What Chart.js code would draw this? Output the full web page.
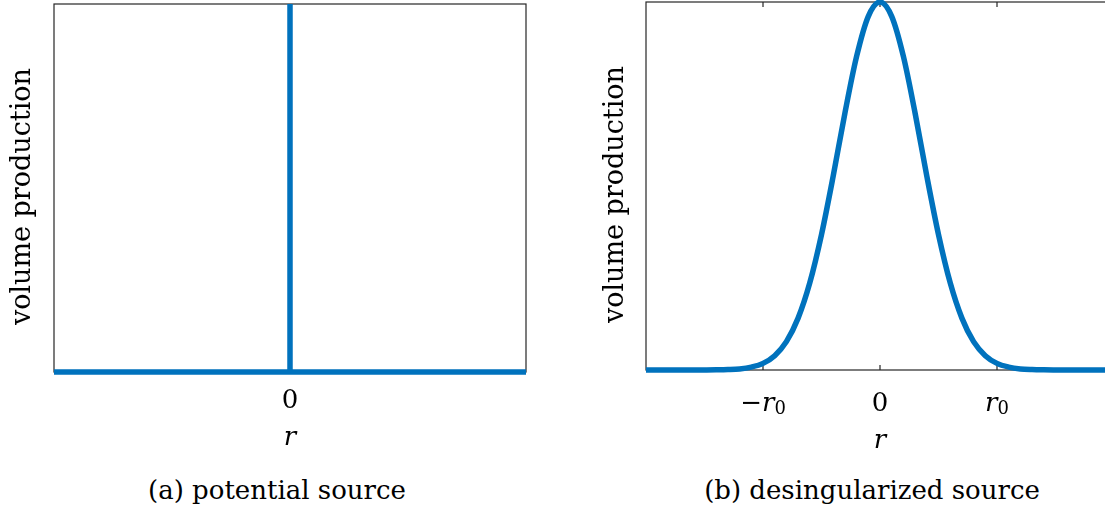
<!DOCTYPE html>
<html>
<head>
<meta charset="utf-8">
<script src="https://cdn.jsdelivr.net/npm/chart.js@4.4.0/dist/chart.umd.min.js"></script>
<style>
  html, body { margin: 0; padding: 0; background: #fff; overflow: hidden; width: 1105px; height: 514px; }
  .box { position: absolute; top: 0; height: 460px; }
  .cap { position: absolute; top: 475px; font: 26px "DejaVu Serif"; line-height: 30px; white-space: nowrap; transform: translateX(-50%); color: #000; }
</style>
</head>
<body>
<div class="box" style="left:0;width:560px"><canvas id="left"></canvas></div>
<div class="box" style="left:580px;width:545px"><canvas id="right"></canvas></div>
<div class="cap" style="left:277px">(a) potential source</div>
<div class="cap" style="left:872px">(b) desingularized source</div>
<script>
// (a) point source: baseline plus a spike at r = 0
const leftR = [-1, 0, 0, 0, 1];
const leftV = [0, 0, 1, 0, 0];
const leftTicks = [0];
const leftTickLabels = ['0'];

// (b) smoothed source, r in units of r0
const rightR = [-2.0, -1.9, -1.8, -1.7, -1.6, -1.5, -1.4, -1.3, -1.2, -1.1, -1.0,
  -0.9, -0.8, -0.7, -0.6, -0.5, -0.4, -0.3, -0.2, -0.1, 0.0,
  0.1, 0.2, 0.3, 0.4, 0.5, 0.6, 0.7, 0.8, 0.9, 1.0,
  1.1, 1.2, 1.3, 1.4, 1.5, 1.6, 1.7, 1.8, 1.9, 2.0];
const rightV = [0, 0, 0, 0, 0, 0, 0.0004, 0.0012, 0.003, 0.008, 0.018,
  0.039, 0.077, 0.141, 0.237, 0.368, 0.527, 0.698, 0.852, 0.961, 1.0,
  0.961, 0.852, 0.698, 0.527, 0.368, 0.237, 0.141, 0.077, 0.039, 0.018,
  0.008, 0.003, 0.0012, 0.0004, 0, 0, 0, 0, 0, 0];
const rightTicks = [-1, 0, 1];
const rightTickLabels = ['-r0', '0', 'r0'];

const BLUE = '#0072BD';
const AXIS = '#262626';
const FAM = '"DejaVu Serif"';

Chart.defaults.color = '#000';

// frame and inward tick marks, like matlab
const boxPlugin = {
  id: 'box',
  beforeDatasetsDraw(chart) {
    const { ctx, chartArea: a, scales: { x } } = chart;
    ctx.save();
    ctx.strokeStyle = AXIS;
    ctx.lineWidth = 1.2;
    ctx.strokeRect(a.left, a.top, a.right - a.left, a.bottom - a.top);
    ctx.beginPath();
    x.ticks.forEach(t => {
      const px = x.getPixelForValue(t.value);
      ctx.moveTo(px, a.bottom); ctx.lineTo(px, a.bottom - 5);
      ctx.moveTo(px, a.top); ctx.lineTo(px, a.top + 5);
    });
    ctx.stroke();
    ctx.restore();
  }
};

// tick labels with italic r and subscript 0
const subLabels = {
  id: 'subLabels',
  afterDraw(chart, args, opts) {
    if (!opts.labels) return;
    const { ctx, chartArea: a, scales: { x } } = chart;
    const base = a.bottom + 41;
    ctx.save();
    ctx.fillStyle = '#000';
    ctx.textBaseline = 'alphabetic';
    ctx.textAlign = 'left';
    x.ticks.forEach((t, i) => {
      const lab = opts.labels[i];
      const parts = [];
      for (let k = 0; k < lab.length; k++) {
        const c = lab[k];
        if (c === '-') parts.push({ s: '\u2212', f: '26px ' + FAM, dy: 0 });
        else if (/[a-z]/.test(c)) parts.push({ s: c, f: 'italic 26px ' + FAM, dy: 0 });
        else if (k > 0 && /[a-z]/.test(lab[k - 1])) parts.push({ s: c, f: '18px ' + FAM, dy: 3 });
        else parts.push({ s: c, f: '26px ' + FAM, dy: 0 });
      }
      let w = 0;
      parts.forEach(p => { ctx.font = p.f; p.w = ctx.measureText(p.s).width; w += p.w; });
      let cx = x.getPixelForValue(t.value) - w / 2;
      parts.forEach(p => { ctx.font = p.f; ctx.fillText(p.s, cx, base + p.dy); cx += p.w; });
    });
    ctx.restore();
  }
};

function makeChart(id, xs, ys, cfg) {
  const pts = xs.map((v, i) => ({ x: v, y: ys[i] }));
  return new Chart(document.getElementById(id), {
    type: 'line',
    data: {
      datasets: [{
        data: pts,
        borderColor: BLUE,
        borderWidth: 5.5,
        pointRadius: 0,
        fill: false,
        clip: false,
        cubicInterpolationMode: cfg.smooth ? 'monotone' : 'default',
        tension: 0
      }]
    },
    options: {
      responsive: true,
      maintainAspectRatio: false,
      animation: false,
      layout: { padding: cfg.pad },
      plugins: {
        legend: { display: false },
        tooltip: { enabled: false },
        subLabels: { labels: cfg.subLabels }
      },
      scales: {
        x: {
          type: 'linear',
          min: cfg.xmin, max: cfg.xmax,
          afterBuildTicks: s => { s.ticks = cfg.ticks.map(v => ({ value: v })); },
          afterFit: s => { s.height = cfg.xh; },
          grid: { display: false, drawTicks: false, tickLength: 0 },
          border: { display: false },
          ticks: {
            display: !cfg.subLabels,
            padding: 14,
            maxRotation: 0,
            autoSkip: false,
            font: { family: FAM, size: 26 },
            callback: (v, i) => cfg.tickLabels[i]
          },
          title: {
            display: true, text: 'r',
            font: { family: FAM, size: 26, style: 'italic' },
            padding: { top: 0, bottom: cfg.xtPad }
          }
        },
        y: {
          min: 0, max: 1,
          afterFit: s => { s.width = cfg.yw; },
          grid: { display: false, drawTicks: false },
          border: { display: false },
          ticks: { display: false },
          title: {
            display: true, text: 'volume production  ',
            font: { family: FAM, size: 27 },
            padding: { top: cfg.ytPad, bottom: 0 }
          }
        }
      }
    },
    plugins: [boxPlugin, subLabels]
  });
}

makeChart('left', leftR, leftV, {
  xmin: -1, xmax: 1, ticks: leftTicks, tickLabels: leftTickLabels,
  pad: { top: 4, right: 34, bottom: 0, left: 0 },
  xh: 88, yw: 54, xtPad: 6.4, ytPad: 6.8, smooth: false
});

makeChart('right', rightR, rightV, {
  xmin: -2, xmax: 2, ticks: rightTicks, tickLabels: rightTickLabels,
  subLabels: rightTickLabels,
  pad: { top: 2, right: 11, bottom: 0, left: 0 },
  xh: 90, yw: 66, xtPad: 3.4, ytPad: 19.8, smooth: true
});
</script>
</body>
</html>
